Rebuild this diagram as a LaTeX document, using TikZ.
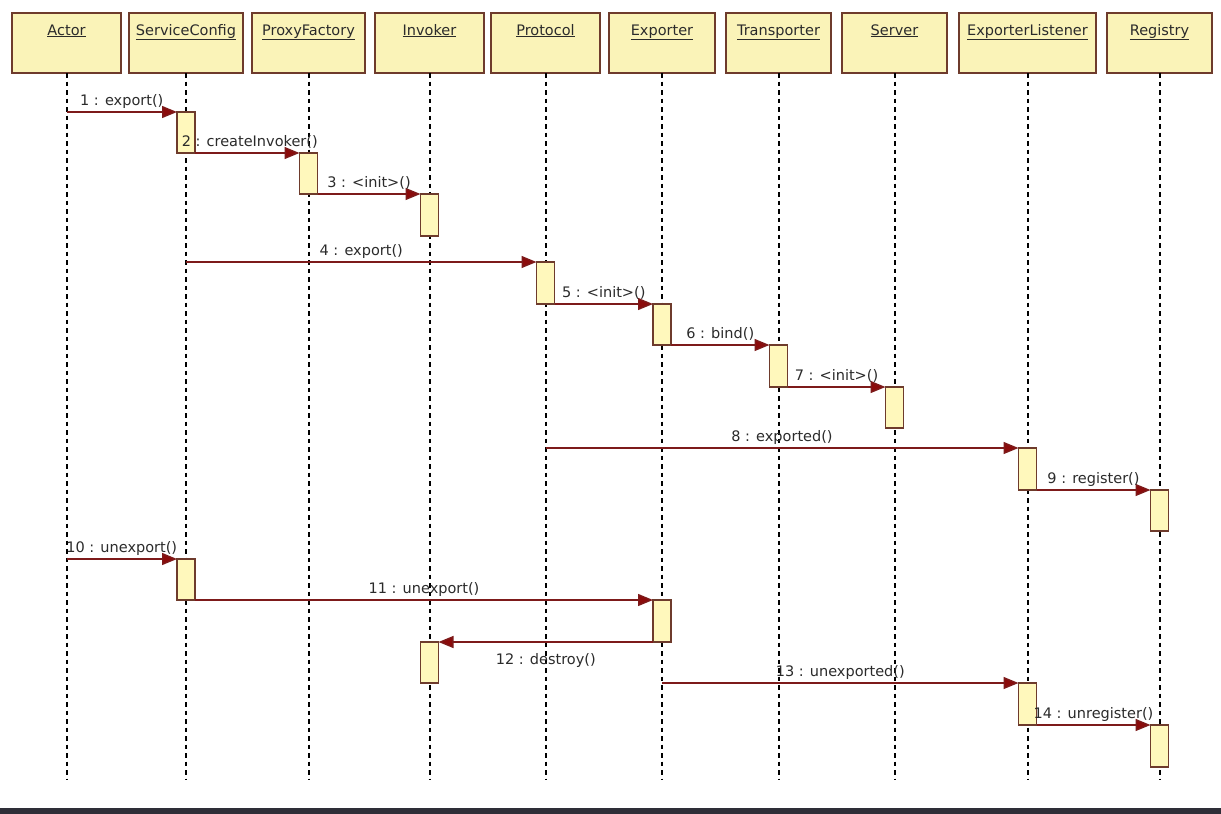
\documentclass[tikz,border=0pt]{standalone}
\usepackage{fontspec}
\setmainfont{DejaVu Sans}
\usetikzlibrary{arrows.meta,calc}
\definecolor{boxfill}{HTML}{FAF3B8}
\definecolor{barfill}{HTML}{FFF8BC}
\definecolor{boxdraw}{HTML}{6E3B2C}
\definecolor{msgcol}{HTML}{7D1A1A}
\definecolor{tipcol}{HTML}{8B0B0B}
\definecolor{txtcol}{HTML}{2B2B2B}
\definecolor{bandcol}{HTML}{2E2E38}
\begin{document}
\begin{tikzpicture}[x=1pt,y=-1pt,
  hdr/.style={draw=boxdraw,fill=boxfill,line width=1.3pt,rectangle,minimum height=60pt,inner sep=0pt,outer sep=0pt,anchor=north west},
  hdrtext/.style={text=txtcol,font=\fontsize{14.5}{16}\selectfont,inner sep=0pt,anchor=base},
  actbar/.style={draw=boxdraw,fill=barfill,line width=1.1pt,rectangle,minimum width=18pt,inner sep=0pt,outer sep=0pt,anchor=north},
  lifeline/.style={draw=black,line width=2pt,dash pattern=on 4.5pt off 4pt},
  msg/.style={draw=msgcol,line width=1.4pt,-{Triangle[length=15pt,width=12pt,fill=tipcol]}},
  msglbl/.style={text=txtcol,font=\fontsize{14.5}{16}\selectfont,inner sep=0pt,anchor=base,midway,yshift=7pt},
  msglblb/.style={text=txtcol,font=\fontsize{14.5}{16}\selectfont,inner sep=0pt,anchor=base,midway,yshift=-22pt}]
\useasboundingbox (0,0) rectangle (1221,814);
\fill[white] (0,0) rectangle (1221,814);
\fill[bandcol] (0,808) rectangle (1221,814);
\coordinate (end) at (0,780);
% header boxes
\node[hdr,minimum width=109pt] (actor) at (12,13) {};
\node[hdr,minimum width=114pt] (sc) at (129,13) {};
\node[hdr,minimum width=113pt] (pf) at (252,13) {};
\node[hdr,minimum width=109pt] (inv) at (375,13) {};
\node[hdr,minimum width=109pt] (prot) at (491,13) {};
\node[hdr,minimum width=106pt] (exp) at (609,13) {};
\node[hdr,minimum width=105pt] (tr) at (726,13) {};
\node[hdr,minimum width=105pt] (srv) at (842,13) {};
\node[hdr,minimum width=137pt] (el) at (959,13) {};
\node[hdr,minimum width=105pt] (reg) at (1107,13) {};
\foreach \n/\t in {actor/Actor,sc/ServiceConfig,pf/ProxyFactory,inv/Invoker,prot/Protocol,exp/Exporter,tr/Transporter,srv/Server,el/ExporterListener,reg/Registry}
  \node[hdrtext] at ($(\n.north)+(0,22)$) {\underline{\t}};
% lifelines
\foreach \n in {actor,sc,pf,inv,prot,exp,tr,srv,el,reg}
  \draw[lifeline] (\n.south) -- (\n.south |- end);
% activation bars
\node[actbar,minimum height=41pt] (b1) at (sc.south |- 0,112) {};
\node[actbar,minimum height=41pt] (b2) at (pf.south |- 0,153) {};
\node[actbar,minimum height=42pt] (b3) at (inv.south |- 0,194) {};
\node[actbar,minimum height=42pt] (b4) at (prot.south |- 0,262) {};
\node[actbar,minimum height=41pt] (b5) at (exp.south |- 0,304) {};
\node[actbar,minimum height=42pt] (b6) at (tr.south |- 0,345) {};
\node[actbar,minimum height=41pt] (b7) at (srv.south |- 0,387) {};
\node[actbar,minimum height=42pt] (b8) at (el.south |- 0,448) {};
\node[actbar,minimum height=41pt] (b9) at (reg.south |- 0,490) {};
\node[actbar,minimum height=41pt] (b10) at (sc.south |- 0,559) {};
\node[actbar,minimum height=42pt] (b11) at (exp.south |- 0,600) {};
\node[actbar,minimum height=41pt] (b12) at (inv.south |- 0,642) {};
\node[actbar,minimum height=42pt] (b13) at (el.south |- 0,683) {};
\node[actbar,minimum height=42pt] (b14) at (reg.south |- 0,725) {};
% messages
\draw[msg] (actor.south |- b1.north west) -- (b1.north west) node[msglbl] {1 : export()};
\draw[msg] (b1.south east) -- (b2.north west) node[msglbl,xshift=2.5pt] {2 : createInvoker()};
\draw[msg] (b2.south east) -- (b3.north west) node[msglbl] {3 : <init>()};
\draw[msg] (sc.south |- b4.north west) -- (b4.north west) node[msglbl] {4 : export()};
\draw[msg] (b4.south east) -- (b5.north west) node[msglbl] {5 : <init>()};
\draw[msg] (b5.south east) -- (b6.north west) node[msglbl] {6 : bind()};
\draw[msg] (b6.south east) -- (b7.north west) node[msglbl] {7 : <init>()};
\draw[msg] (prot.south |- b8.north west) -- (b8.north west) node[msglbl] {8 : exported()};
\draw[msg] (b8.south east) -- (b9.north west) node[msglbl] {9 : register()};
\draw[msg] (actor.south |- b10.north west) -- (b10.north west) node[msglbl] {10 : unexport()};
\draw[msg] (b10.south east) -- (b11.north west) node[msglbl] {11 : unexport()};
\draw[msg] (b11.south west) -- (b12.north east) node[msglblb] {12 : destroy()};
\draw[msg] (exp.south |- b13.north west) -- (b13.north west) node[msglbl] {13 : unexported()};
\draw[msg] (b13.south east) -- (b14.north west) node[msglbl] {14 : unregister()};
\end{tikzpicture}
\end{document}
